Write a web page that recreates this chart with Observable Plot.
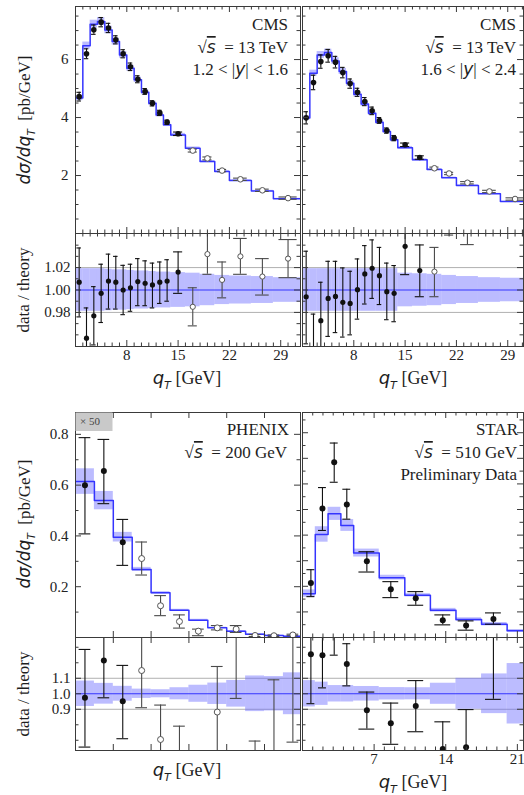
<!DOCTYPE html>
<html><head><meta charset="utf-8">
<script src="https://cdn.jsdelivr.net/npm/d3@7"></script>
<script src="https://cdn.jsdelivr.net/npm/@observablehq/plot@0.6"></script>
<style>
body{margin:0;background:#fff}
#fig{position:relative;width:524px;height:795px;overflow:hidden;background:#fff}
#fig svg{position:absolute}
</style></head><body><div id="fig"></div><script>
// ---------- CMS (13 TeV) bins, GeV ----------
const cmsLo = [1,2,3,4,5,6,7,8,9,10,11,12,13,14,16,18,20,22,25,28];
const cmsHi = [2,3,4,5,6,7,8,9,10,11,12,13,14,16,18,20,22,25,28,32];
const cmsQ  = [1.5,2.5,3.5,4.5,5.5,6.5,7.5,8.5,9.5,10.5,11.5,12.5,13.5,15,17,19,21,23.5,26.5,30];
// 1.2<|y|<1.6
const cms1Theory = [4.67,6.48,7.22,7.31,7.02,6.62,6.16,5.70,5.30,4.87,4.49,4.09,3.75,3.40,2.94,2.48,2.14,1.83,1.47,1.20];
const cms1Unc    = [0.019,0.019,0.019,0.019,0.0185,0.018,0.018,0.0175,0.017,0.017,0.0165,0.016,0.016,0.0155,0.015,0.014,0.013,0.0125,0.012,0.011];
const cms1Data   = [4.72,6.20,7.03,7.29,7.09,6.68,6.20,5.75,5.32,4.90,4.49,4.16,3.84,3.44,2.86,2.59,2.17,1.87,1.49,1.22];
const cms1Err    = [0.15,0.17,0.16,0.16,0.16,0.14,0.14,0.13,0.12,0.10,0.09,0.09,0.07,0.06,0.05,0.05,0.04,0.04,0.04,0.04];
const cms1Ratio  = [1.007,0.957,0.977,0.997,1.008,1.007,1.000,1.002,1.0075,1.006,1.0045,1.007,1.008,1.016,0.985,1.032,1.009,1.030,1.012,1.028];
const cms1RatioHi= [1.0375,0.984,1.003,1.023,1.032,1.030,1.022,1.023,1.028,1.026,1.024,1.025,1.027,1.034,1.002,1.055,1.025,1.046,1.028,1.045];
const cms1RatioLo= [0.976,0.930,0.951,0.971,0.983,0.983,0.978,0.981,0.986,0.986,0.984,0.988,0.990,0.997,0.968,1.014,0.993,1.014,0.9955,1.011];
const cms1Filled = 14;
// 1.6<|y|<2.4
const cms2Theory = [3.98,5.53,6.16,6.24,5.95,5.59,5.18,4.80,4.47,4.15,3.84,3.52,3.23,2.96,2.54,2.21,1.92,1.66,1.37,1.10];
const cms2Unc    = [0.019,0.019,0.019,0.019,0.019,0.019,0.019,0.019,0.019,0.019,0.019,0.019,0.019,0.015,0.0145,0.014,0.013,0.012,0.011,0.0105];
const cms2Data   = [3.99,5.21,5.93,6.13,5.91,5.55,5.17,4.87,4.55,4.23,3.90,3.55,3.29,3.06,2.62,2.25,2.07,1.75,1.45,1.19];
const cms2Err    = [0.21,0.25,0.23,0.22,0.20,0.18,0.16,0.14,0.14,0.13,0.10,0.09,0.09,0.06,0.06,0.04,0.04,0.04,0.04,0.04];
const cms2Ratio  = [0.994,0.935,0.9726,0.9925,0.9943,0.989,0.988,1.0003,1.0143,1.0194,1.0128,0.9985,0.997,1.039,1.0173,1.0164,1.07,1.065,1.08,1.08];
const cms2RatioHi= [1.0346,0.9785,1.0069,1.0256,1.0256,1.0197,1.0167,1.0277,1.0396,1.0447,1.038,1.024,1.0218,1.065,1.0402,1.038,1.09,1.09,1.10,1.10];
const cms2RatioLo= [0.952,0.90,0.94,0.9586,0.962,0.958,0.960,0.974,0.9875,0.9925,0.987,0.9735,0.9717,1.0137,0.994,0.994,1.049,1.0405,1.06,1.06];
const cms2Filled = 15;
// ---------- PHENIX (200 GeV), x 50 ----------
const phxLo = [0,0.25,0.5,0.75,1,1.25,1.5,1.75,2,2.25,2.5,2.75];
const phxHi = [0.25,0.5,0.75,1,1.25,1.5,1.75,2,2.25,2.5,2.75,3];
const phxQ  = [0.125,0.375,0.625,0.875,1.125,1.375,1.625,1.875,2.125,2.375,2.625,2.875];
const phxTheory = [0.614,0.539,0.395,0.268,0.176,0.107,0.068,0.038,0.025,0.013,0.008,0.005];
const phxUnc    = [0.082,0.067,0.048,0.030,0.026,0.039,0.055,0.069,0.086,0.115,0.111,0.135];
const phxData   = [0.600,0.656,0.375,0.311,0.125,0.063,0.025,0.038,0.033,0.008,0.007,0.010];
const phxDataHi = [0.787,0.780,0.465,0.376,0.165,0.089,0.033,0.047,0.047,0.012,0.010,0.013];
const phxDataLo = [0.408,0.527,0.284,0.246,0.086,0.037,0.007,0.030,0.020,0.004,0.004,0.007];
const phxRatio  = [0.974,1.215,0.951,1.150,0.705,0.55,0.37,0.882,1.40,0.55,0.50,1.45];
const phxRatioHi= [1.286,1.45,1.183,1.45,0.927,0.791,0.49,1.176,1.50,0.695,1.090,1.60];
const phxRatioLo= [0.656,0.974,0.710,0.910,0.55,0.40,0.25,0.55,0.970,0.40,0.30,0.688];
const phxFilled = 3;
// ---------- STAR (510 GeV, preliminary) ----------
const starLo = [0,1.25,2.5,3.75,5,7.5,10,12.5,15,17.5,20];
const starHi = [1.25,2.5,3.75,5,7.5,10,12.5,15,17.5,20,22.5];
const starTheory = [1.714,4.026,4.831,4.377,3.299,2.338,1.649,1.065,0.701,0.519,0.260];
const starUnc    = [0.085,0.075,0.053,0.053,0.047,0.040,0.039,0.068,0.10,0.128,0.195];
const starQ      = [0.82,1.95,3.10,4.33,6.29,8.63,11.07,13.71,15.99,18.66];
const starData   = [2.130,5.039,6.844,5.195,2.974,1.883,1.532,0.675,0.468,0.727];
const starDataHi = [2.649,5.857,7.597,5.792,3.351,2.182,1.792,0.883,0.649,0.961];
const starDataLo = [1.597,4.182,6.065,4.623,2.558,1.558,1.260,0.494,0.286,0.519];
const starRatio  = [1.255,1.249,1.45,1.192,0.894,0.809,0.921,0.644,0.655,1.45];
const starRatioHi= [1.45,1.45,1.60,1.323,1.011,0.940,1.085,0.819,0.898,1.60];
const starRatioLo= [0.936,1.038,1.249,1.051,0.772,0.674,0.755,0.55,0.55,0.964];
const starFilled = 10;
// ---------- tick labels ----------
const cmsXLabels = [8,15,22,29];
const cmsYLabels = [2,4,6];
const cmsRatioLabels = [0.98,1.00,1.02];
const phxYLabels = [0.2,0.4,0.6,0.8];
const lowRatioLabels = [0.9,1.0,1.1];
const starXLabels = [7,14,21];

// ---------- helpers ----------
const fig = document.getElementById("fig");
const BLUE = "#3434ff", BAND = "#6a6aff", FRAME = "#3a3a3a";
const M = 40;

function mkBins(lo, hi, v, u){ return lo.map((l,i)=>({lo:l, hi:hi[i], v:v[i], u:u[i]})); }
function mkPts(q, y, lo, hi, bLo, bHi, nFilled){
  return q.map((x,i)=>({x, y:y[i], lo:lo[i], hi:hi[i], c:0.31*(bHi[i]-bLo[i]), filled:i<nFilled}));
}
function stepPts(b){ const s=b.map(d=>({x:d.lo,y:d.v})); s.push({x:b[b.length-1].hi,y:b[b.length-1].v}); return s; }

function errMarks(p, r){
  const f=p.filter(d=>d.filled), o=p.filter(d=>!d.filled), m=[];
  for (const [set,col] of [[o,"#4a4a4a"],[f,"#111"]]) {
    m.push(Plot.ruleX(set,{x:"x",y1:"lo",y2:"hi",stroke:col,strokeWidth:1.1,clip:true}));
    m.push(Plot.ruleY(set,{y:"lo",x1:d=>d.x-d.c,x2:d=>d.x+d.c,stroke:col,strokeWidth:1.1,clip:true}));
    m.push(Plot.ruleY(set,{y:"hi",x1:d=>d.x-d.c,x2:d=>d.x+d.c,stroke:col,strokeWidth:1.1,clip:true}));
  }
  m.push(Plot.dot(o,{x:"x",y:"y",r,fill:"white",stroke:"#555",strokeWidth:1,clip:true}));
  m.push(Plot.dot(f,{x:"x",y:"y",r,fill:"#111",clip:true}));
  return m;
}
function mainMarks(b, p, r){
  return [
    Plot.rect(b,{x1:"lo",x2:"hi",y1:d=>d.v*(1-d.u),y2:d=>d.v*(1+d.u),fill:BAND,fillOpacity:0.45,clip:true}),
    Plot.line(stepPts(b),{x:"x",y:"y",curve:"step-after",stroke:BLUE,strokeWidth:1.5,clip:true}),
    ...errMarks(p, r)
  ];
}
function ratioMarks(b, p, refs, r){
  return [
    Plot.ruleY(refs,{stroke:"#b0b0b0",strokeWidth:1}),
    Plot.rect(b,{x1:"lo",x2:"hi",y1:d=>1-d.u,y2:d=>1+d.u,fill:BAND,fillOpacity:0.45,clip:true}),
    Plot.ruleY([1],{stroke:BLUE,strokeWidth:1.2}),
    ...errMarks(p, r)
  ];
}
function tickMarks(f, xMaj, xMin, yMaj, yMin){
  const W=f.x1-f.x0, H=f.y1-f.y0, m=[];
  for (const [v,len] of [[xMaj,6],[xMin,3.5]]) {
    m.push(Plot.tickX(v,{x:d=>d,insetTop:H-len,stroke:FRAME}));
    m.push(Plot.tickX(v,{x:d=>d,insetBottom:H-len,stroke:FRAME}));
  }
  for (const [v,len] of [[yMaj,6],[yMin,3.5]]) {
    m.push(Plot.tickY(v,{y:d=>d,insetRight:W-len,stroke:FRAME}));
    m.push(Plot.tickY(v,{y:d=>d,insetLeft:W-len,stroke:FRAME}));
  }
  m.push(Plot.frame({stroke:FRAME,strokeWidth:1}));
  return m;
}
function addPlot(f, xd, yd, marks, hasX, hasY){
  const svg = Plot.plot({
    width:f.x1-f.x0+2*M, height:f.y1-f.y0+2*M,
    marginLeft:M, marginRight:M, marginTop:M, marginBottom:M,
    x:{domain:xd, ...(hasX?{}:{axis:null})},
    y:{domain:yd, ...(hasY?{}:{axis:null})},
    style:"background:transparent;overflow:visible;font-family:'Liberation Serif',serif;font-size:15px;color:#222",
    marks
  });
  svg.style.position="absolute";
  svg.style.left=(f.x0-M)+"px"; svg.style.top=(f.y0-M)+"px";
  svg.style.maxWidth="none";
  fig.appendChild(svg);
}
const xLab = (ticks, fmt) => Plot.axisX({anchor:"bottom",ticks,tickSize:0,tickPadding:3,tickFormat:fmt,label:null,fontSize:15});
const yLab = (ticks, fmt, pad) => Plot.axisY({anchor:"left",ticks,tickSize:0,tickPadding:pad,tickFormat:fmt,label:null,fontSize:15});

// frames (page pixels)
const fTLm={x0:75,x1:300,y0:6,y1:233}, fTRm={x0:302,x1:523,y0:6,y1:233};
const fTLr={x0:75,x1:300,y0:233,y1:346}, fTRr={x0:302,x1:523,y0:233,y1:346};
const fBLm={x0:75,x1:300,y0:412,y1:637}, fBRm={x0:302,x1:523,y0:412,y1:637};
const fBLr={x0:75,x1:300,y0:637,y1:750}, fBRr={x0:302,x1:523,y0:637,y1:750};

const cmsXD1=[1,31.7], cmsXD2=[1,31.15], cmsYD=[0,7.83], cmsRD=[0.9496,1.0504];
const phxXD=[0,2.976], phxYD=[0,0.886], starXD=[0,21.6], starYD=[0,8.79], lowRD=[0.634,1.363];

const cmsXMin = d3.range(1,32).filter(v=>!cmsXLabels.includes(v));
const cmsYMin = d3.range(0.5,8,0.5).filter(v=>v%2!==0);
const cmsRMin = [0.96,0.97,0.99,1.01,1.03,1.04];
const phxXMaj = [0.5,1,1.5,2,2.5];
const phxYMin = [0.1,0.3,0.5,0.7];
const starXMin = d3.range(1,22).filter(v=>!starXLabels.includes(v));
const starYMaj = d3.range(1,9), starYMin = d3.range(0.5,9,1);
const lowRMin = [0.7,0.8,1.2,1.3];

// ----- CMS 1.2<|y|<1.6 -----
const b1 = mkBins(cmsLo,cmsHi,cms1Theory,cms1Unc);
const p1 = mkPts(cmsQ,cms1Data,cms1Data.map((d,i)=>d-cms1Err[i]),cms1Data.map((d,i)=>d+cms1Err[i]),cmsLo,cmsHi,cms1Filled);
const r1 = mkPts(cmsQ,cms1Ratio,cms1RatioLo,cms1RatioHi,cmsLo,cmsHi,cms1Filled);
addPlot(fTLm,cmsXD1,cmsYD,[...mainMarks(b1,p1,2.8),...tickMarks(fTLm,cmsXLabels,cmsXMin,cmsYLabels,cmsYMin),yLab(cmsYLabels,d3.format("d"),7)],false,true);
addPlot(fTLr,cmsXD1,cmsRD,[...ratioMarks(b1,r1,[0.98,1.02],2.6),...tickMarks(fTLr,cmsXLabels,cmsXMin,cmsRatioLabels,cmsRMin),yLab(cmsRatioLabels,d3.format(".2f"),5),xLab(cmsXLabels,d3.format("d"))],true,true);
// ----- CMS 1.6<|y|<2.4 -----
const b2 = mkBins(cmsLo,cmsHi,cms2Theory,cms2Unc);
const p2 = mkPts(cmsQ,cms2Data,cms2Data.map((d,i)=>d-cms2Err[i]),cms2Data.map((d,i)=>d+cms2Err[i]),cmsLo,cmsHi,cms2Filled);
const r2 = mkPts(cmsQ,cms2Ratio,cms2RatioLo,cms2RatioHi,cmsLo,cmsHi,cms2Filled);
addPlot(fTRm,cmsXD2,cmsYD,[...mainMarks(b2,p2,2.8),...tickMarks(fTRm,cmsXLabels,cmsXMin,cmsYLabels,cmsYMin)],false,false);
addPlot(fTRr,cmsXD2,cmsRD,[...ratioMarks(b2,r2,[0.98,1.02],2.6),...tickMarks(fTRr,cmsXLabels,cmsXMin,cmsRatioLabels,cmsRMin),xLab(cmsXLabels,d3.format("d"))],true,false);
// ----- PHENIX -----
const b3 = mkBins(phxLo,phxHi,phxTheory,phxUnc);
const p3 = mkPts(phxQ,phxData,phxDataLo,phxDataHi,phxLo,phxHi,phxFilled);
const r3 = mkPts(phxQ,phxRatio,phxRatioLo,phxRatioHi,phxLo,phxHi,phxFilled);
addPlot(fBLm,phxXD,phxYD,[...mainMarks(b3,p3,3),...tickMarks(fBLm,phxXMaj,[],phxYLabels,phxYMin),yLab(phxYLabels,d3.format(".1f"),7)],false,true);
addPlot(fBLr,phxXD,lowRD,[...ratioMarks(b3,r3,[0.9,1.1],3),...tickMarks(fBLr,phxXMaj,[],lowRatioLabels,lowRMin),yLab(lowRatioLabels,d3.format(".1f"),5)],false,true);
// ----- STAR -----
const b4 = mkBins(starLo,starHi,starTheory,starUnc);
const p4 = mkPts(starQ,starData,starDataLo,starDataHi,starLo,starHi,starFilled);
const r4 = mkPts(starQ,starRatio,starRatioLo,starRatioHi,starLo,starHi,starFilled);
addPlot(fBRm,starXD,starYD,[...mainMarks(b4,p4,3),...tickMarks(fBRm,starXLabels,starXMin,starYMaj,starYMin)],false,false);
addPlot(fBRr,starXD,lowRD,[...ratioMarks(b4,r4,[0.9,1.1],3),...tickMarks(fBRr,starXLabels,starXMin,lowRatioLabels,lowRMin),xLab(starXLabels,d3.format("d"))],true,false);

// ---------- text overlay ----------
const ov = d3.select(fig).append("svg").attr("width",524).attr("height",795)
  .style("left","0px").style("top","0px").style("overflow","visible")
  .style("font-family","'Liberation Serif', serif").attr("fill","#1e1e1e");
ov.append("rect").attr("x",75.5).attr("y",412.5).attr("width",37).attr("height",18.5).attr("fill","#c9c9c9");
ov.append("text").attr("x",80).attr("y",425).attr("font-size",11).attr("fill","#444").text("× 50");

function label(x, y, anchor, parts, size=17, rot=0){
  const t = ov.append("text").attr("text-anchor",anchor).attr("font-size",size)
    .attr("transform",`translate(${x},${y})`+(rot?` rotate(${rot})`:""));
  for (const p of parts){
    const s = t.append("tspan").text(p.t);
    if (p.i) s.attr("font-family","'DejaVu Sans', sans-serif").attr("font-style","italic");
    if (p.sub) s.attr("font-size",size*0.62).attr("dy",size*0.28);
    if (p.up) s.attr("dy",-size*0.28);
    if (p.o) s.attr("text-decoration","overline");
  }
}
const sqrtS = (rest) => [{t:"√"},{t:"s",i:true,o:true},{t:"\u00a0\u00a0"+rest}];
label(288,30,"end",[{t:"CMS"}]);
label(288,53,"end",sqrtS("= 13 TeV"));
label(288,75,"end",[{t:"1.2 < |"},{t:"y",i:true},{t:"| < 1.6"}]);
label(516,30,"end",[{t:"CMS"}]);
label(516,53,"end",sqrtS("= 13 TeV"));
label(516,75,"end",[{t:"1.6 < |"},{t:"y",i:true},{t:"| < 2.4"}]);
label(289,435,"end",[{t:"PHENIX"}]);
label(287,458,"end",sqrtS("= 200 GeV"));
label(518,435,"end",[{t:"STAR"}]);
label(517,458,"end",sqrtS("= 510 GeV"));
label(517,480,"end",[{t:"Preliminary Data"}]);

const ytitle = [{t:"dσ/dq",i:true},{t:"T",i:true,sub:true},{t:"\u00a0\u00a0[pb/GeV]",up:true}];
label(30,120,"middle",ytitle,17,-90);
label(30,524,"middle",ytitle,17,-90);
label(29,290,"middle",[{t:"data / theory"}],17,-90);
label(29,694,"middle",[{t:"data / theory"}],17,-90);
const qlab = [{t:"q",i:true},{t:"T",i:true,sub:true},{t:"\u00a0[GeV]",up:true}];
label(187,384,"middle",qlab,18);
label(413,384,"middle",qlab,18);
label(187,776,"middle",qlab,18);
label(413,788,"middle",qlab,18);
</script></body></html>
